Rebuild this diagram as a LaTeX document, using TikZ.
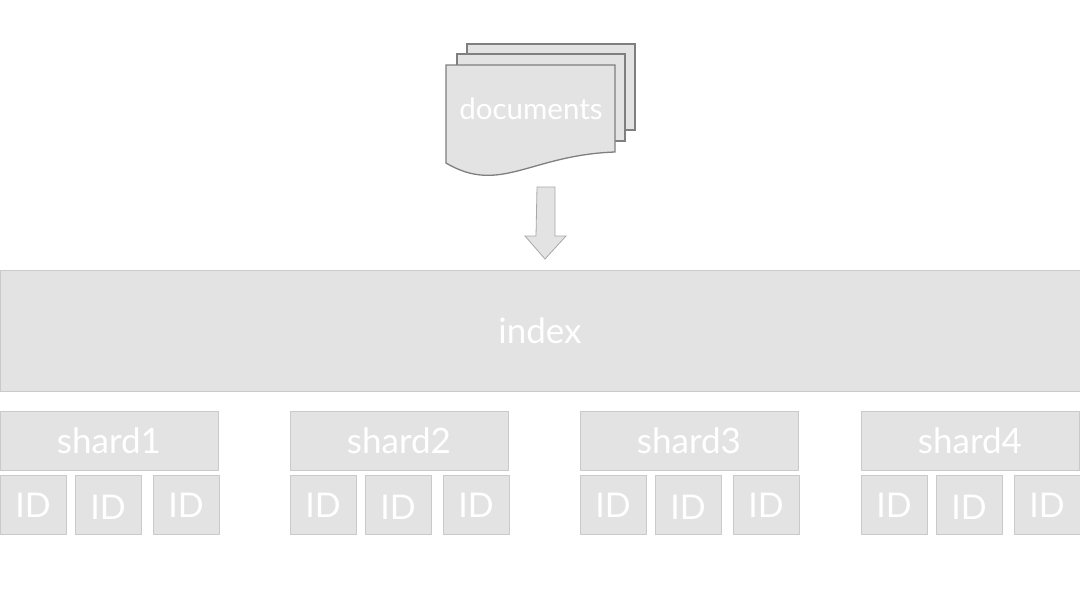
\documentclass[tikz,border=0pt]{standalone}
\usepackage{fontspec}
\setmainfont{Lato}
\usetikzlibrary{positioning}

\begin{document}
\begin{tikzpicture}[x=1pt,y=-1pt,
  box/.style={draw=boxline, fill=boxgray, line width=1pt, inner sep=0pt, text=white},
  idbox/.style={box, minimum width=66, minimum height=59, text height=25pt, text depth=0pt,
    font=\fontsize{34}{40}\selectfont},
  page/.style={draw=pageline, fill=boxgray, line width=1.3pt}]

\definecolor{boxgray}{HTML}{E3E3E3}
\definecolor{boxline}{HTML}{CACACA}
\definecolor{pageline}{HTML}{7F7F7F}
\definecolor{arrowline}{HTML}{A8A8A8}

\useasboundingbox (0,0) rectangle (1080,600);

% stack of documents
\draw[page] (467,44) rectangle (635,130);
\draw[page] (457,54) rectangle (625,141);
\draw[page] (446,65) -- (615,65) -- (615,152)
  .. controls (530,155) and (500,195) .. (446,163) -- cycle;
\node[text=white, font=\fontsize{29.5}{34}\selectfont] (docs) at (531,109) {documents};

% block arrow
\coordinate (arrtop) at (546,187);
\draw[draw=arrowline, fill=boxgray, line width=0.8pt] (arrtop) ++(-9,0) -- ++(18,0) -- ++(0,49)
  -- ++(11,0) -- ++(-21,23) -- ++(-20,-23) -- ++(11,0) -- cycle;

\node[box, minimum width=1080, minimum height=121, font=\fontsize{35}{40}\selectfont] (index) at (540,330.5) {index};

\foreach \i/\x in {1/0,2/290,3/580,4/861}{
  \node[box, minimum width=218, minimum height=59, font=\fontsize{35}{40}\selectfont] (shard\i) at (\x+109,441) {shard\i};
  \node[idbox] (id\i a) at (\x+33,504.5) {ID};
  \node[idbox] (id\i b) at (\x+108,504.5) {\raisebox{-2.5pt}{ID}};
  \node[idbox] (id\i c) at (\x+186,504.5) {ID};
}

\end{tikzpicture}
\end{document}
